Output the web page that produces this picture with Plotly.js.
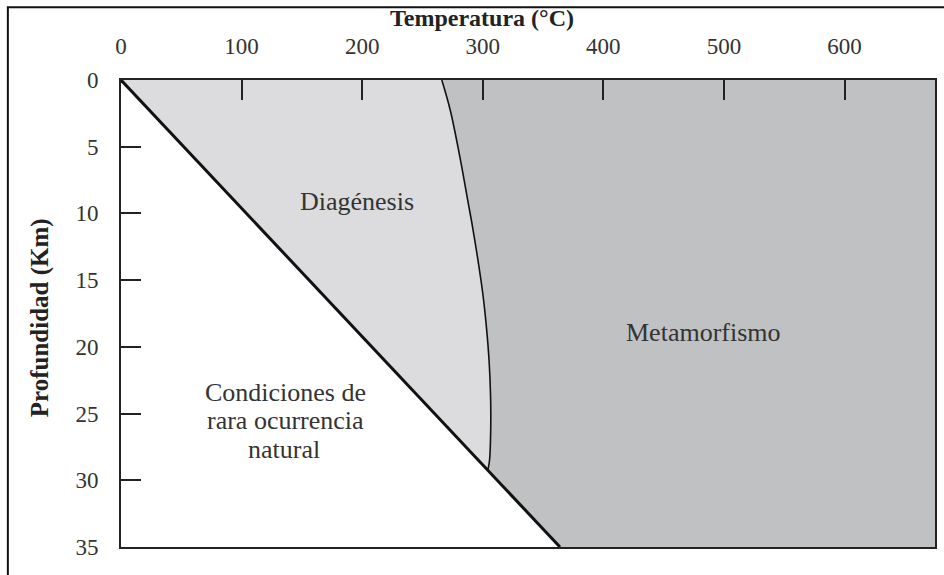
<!DOCTYPE html>
<html>
<head>
<meta charset="utf-8">
<script src="https://cdn.plot.ly/plotly-3.0.1.min.js"></script>
<style>html,body{margin:0;padding:0;background:#fff;}#chart{width:944px;height:575px;}</style>
</head>
<body>
<div id="chart"></div>
<script>
// Axis ticks
const tempTicks = [0, 100, 200, 300, 400, 500, 600];
const depthTicks = [0, 5, 10, 15, 20, 25, 30, 35];
const tempMax = 675;
const depthMax = 35;

// Geothermal limit (thick line): temperature, depth
const limitTemp = [0, 364];
const limitDepth = [0, 35];

// Diagenesis / metamorphism boundary (thin curve)
const boundTemp = [266, 273, 281.5, 287.5, 291.5, 296, 300, 303, 305.2, 306.4, 306.6, 305.6, 304.2];
const boundDepth = [0, 2.25, 6, 9, 11, 13.5, 16, 18.5, 21, 23.5, 26, 28.5, 29.23];

// Region labels (one entry per text line)
const labelText = ["Diagénesis", "Metamorfismo", "Condiciones de", "rara ocurrencia", "natural"];
const labelTemp = [196, 483, 136, 136, 135];
const labelDepth = [9.1, 18.9, 23.45, 25.55, 27.7];

// Axis titles
const xTitle = "Temperatura (°C)";
const yTitle = "Profundidad (Km)";

// Build polygons from the arrays
const diagX = [limitTemp[0]].concat(boundTemp, [limitTemp[0]]);
const diagY = [limitDepth[0]].concat(boundDepth, [limitDepth[0]]);
const metaX = boundTemp.slice().concat([limitTemp[1], tempMax, tempMax, boundTemp[0]]);
const metaY = boundDepth.slice().concat([limitDepth[1], depthMax, 0, boundDepth[0]]);

const serif = "Liberation Serif, Times New Roman, serif";

const traces = [
  {x: metaX, y: metaY, type: 'scatter', mode: 'lines', fill: 'toself',
   fillcolor: '#bfc1c3', line: {width: 0}, hoverinfo: 'skip', showlegend: false},
  {x: diagX, y: diagY, type: 'scatter', mode: 'lines', fill: 'toself',
   fillcolor: '#dcdcde', line: {width: 0}, hoverinfo: 'skip', showlegend: false},
  {x: boundTemp, y: boundDepth, type: 'scatter', mode: 'lines',
   line: {color: '#111', width: 1.6, shape: 'spline', smoothing: 1}, hoverinfo: 'skip', showlegend: false},
  {x: limitTemp, y: limitDepth, type: 'scatter', mode: 'lines',
   line: {color: '#111', width: 3}, hoverinfo: 'skip', showlegend: false}
];

const annotations = labelText.map((t, i) => ({
  x: labelTemp[i], y: labelDepth[i], xref: 'x', yref: 'y', text: t,
  showarrow: false, font: {family: serif, size: 26, color: '#333'}
}));
annotations.push({
  x: 0.4435, y: 1.133, xref: 'paper', yref: 'paper', text: '<b>' + xTitle + '</b>',
  showarrow: false, xanchor: 'center', yanchor: 'middle',
  font: {family: serif, size: 24, color: '#222'}
});
annotations.push({
  x: -0.0995, y: 0.49, xref: 'paper', yref: 'paper', text: '<b>' + yTitle + '</b>',
  showarrow: false, textangle: -90, xanchor: 'center', yanchor: 'middle',
  font: {family: serif, size: 25, color: '#222'}
});

const layout = {
  width: 944, height: 575,
  margin: {l: 121, r: 9, t: 80, b: 28},
  paper_bgcolor: '#fff', plot_bgcolor: '#fff',
  xaxis: {
    side: 'top', range: [0, tempMax], tickvals: tempTicks, ticktext: tempTicks.map(String),
    ticks: 'inside', ticklen: 20, tickwidth: 2, tickcolor: '#222',
    showline: true, linecolor: '#222', linewidth: 2, mirror: true,
    showgrid: false, zeroline: false, ticklabelstandoff: 15,
    tickfont: {family: serif, size: 23, color: '#333'}
  },
  yaxis: {
    range: [depthMax, 0], tickvals: depthTicks, ticktext: depthTicks.map(String),
    ticks: 'inside', ticklen: 20, tickwidth: 2, tickcolor: '#222',
    showline: true, linecolor: '#222', linewidth: 2, mirror: true,
    showgrid: false, zeroline: false, ticklabelstandoff: 16,
    tickfont: {family: serif, size: 23, color: '#333'}
  },
  annotations: annotations,
  shapes: [
    {type: 'path', xref: 'paper', yref: 'paper',
     path: 'M -0.139 -0.2 L -0.139 1.156 L 1.05 1.156',
     line: {color: '#111', width: 2}}
  ]
};

Plotly.newPlot('chart', traces, layout, {displayModeBar: false, staticPlot: true});
</script>
</body>
</html>
